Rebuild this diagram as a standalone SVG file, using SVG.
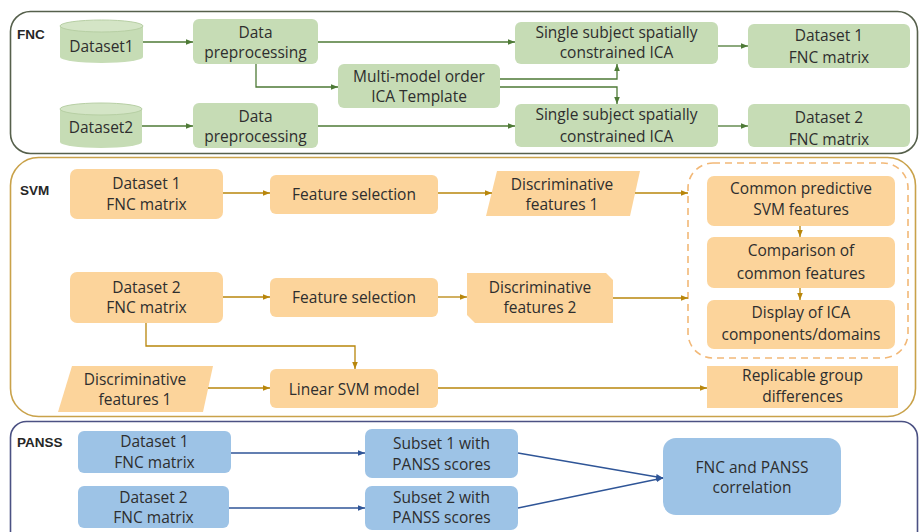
<svg xmlns="http://www.w3.org/2000/svg" width="920" height="532" viewBox="0 0 920 532">
  <defs>
    <marker id="arr-g" viewBox="0 0 8 8" refX="8" refY="4" markerWidth="7" markerHeight="7" markerUnits="userSpaceOnUse" orient="auto">
      <path d="M0,0.8 L8,4 L0,7.2 Z" fill="#4e7a36"/>
    </marker>
    <marker id="arr-o" viewBox="0 0 8 8" refX="8" refY="4" markerWidth="7" markerHeight="7" markerUnits="userSpaceOnUse" orient="auto">
      <path d="M0,0.8 L8,4 L0,7.2 Z" fill="#b8860b"/>
    </marker>
    <marker id="arr-b" viewBox="0 0 8 8" refX="8" refY="4" markerWidth="7" markerHeight="7" markerUnits="userSpaceOnUse" orient="auto">
      <path d="M0,0.8 L8,4 L0,7.2 Z" fill="#2f5597"/>
    </marker>
  </defs>
  <style>
    .panel { fill: #ffffff; stroke-width: 1.6; }
    .label { font-family: "Liberation Sans", Arial, sans-serif; font-size: 13.5px; font-weight: bold; fill: #262626; }
    .t { font-family: "Open Sans", "Noto Sans", sans-serif; font-size: 15.5px; fill: #2e2e2e; text-anchor: middle; }
    .g { fill: #c6dcb5; }
    .gtop { fill: #d4e5c6; stroke: #b7cfa4; stroke-width: 1; }
    .o { fill: #fcd49b; }
    .b { fill: #9dc3e6; }
    .cg { fill: none; stroke: #4e7a36; stroke-width: 1.3; }
    .co { fill: none; stroke: #b8860b; stroke-width: 1.3; }
    .cb { fill: none; stroke: #2f5597; stroke-width: 1.3; }
  </style>

  <!-- section frames -->
  <g id="panel-fnc">
    <rect class="panel" x="10.5" y="11.5" width="907" height="142" rx="20" stroke="#56604c"/>
    <text class="label" x="17" y="39">FNC</text>
  </g>
  <g id="panel-svm">
    <rect class="panel" x="10.5" y="157.5" width="905" height="259" rx="28" stroke="#c9a24a"/>
    <text class="label" x="20" y="195">SVM</text>
  </g>
  <g id="panel-panss">
    <rect class="panel" x="10.5" y="421.5" width="907" height="135" rx="16" stroke="#4b5183"/>
    <text class="label" x="17" y="447">PANSS</text>
  </g>

  <!-- FNC section nodes -->
  <g id="fnc-dataset1">
    <path class="g" d="M60,26 L60,57 A41.5,6 0 0 0 143,57 L143,26 Z"/>
    <ellipse class="gtop" cx="101.5" cy="26" rx="41.5" ry="6"/>
    <text class="t" x="101.5" y="51.5">Dataset1</text>
  </g>
  <g id="fnc-dataset2">
    <path class="g" d="M60,109 L60,142 A41,6 0 0 0 142,142 L142,109 Z"/>
    <ellipse class="gtop" cx="101" cy="109" rx="41" ry="6"/>
    <text class="t" x="101" y="133">Dataset2</text>
  </g>
  <g id="fnc-preproc1">
    <rect class="g" x="193" y="19" width="125" height="45" rx="6"/>
    <text class="t" x="255.5" y="38">Data</text>
    <text class="t" x="255.5" y="58">preprocessing</text>
  </g>
  <g id="fnc-preproc2">
    <rect class="g" x="193" y="103" width="125" height="45" rx="6"/>
    <text class="t" x="255.5" y="122">Data</text>
    <text class="t" x="255.5" y="142">preprocessing</text>
  </g>
  <g id="fnc-template">
    <rect class="g" x="338" y="64" width="162" height="44" rx="6"/>
    <text class="t" x="419" y="81.5">Multi-model order</text>
    <text class="t" x="419" y="101.5">ICA Template</text>
  </g>
  <g id="fnc-scica1">
    <rect class="g" x="515" y="22" width="203" height="42" rx="6"/>
    <text class="t" x="616.5" y="37.5">Single subject spatially</text>
    <text class="t" x="616.5" y="58">constrained ICA</text>
  </g>
  <g id="fnc-scica2">
    <rect class="g" x="515" y="104" width="203" height="43" rx="6"/>
    <text class="t" x="616.5" y="120">Single subject spatially</text>
    <text class="t" x="616.5" y="141.5">constrained ICA</text>
  </g>
  <g id="fnc-matrix1">
    <rect class="g" x="748" y="24" width="162" height="44" rx="6"/>
    <text class="t" x="829" y="41">Dataset 1</text>
    <text class="t" x="829" y="63">FNC matrix</text>
  </g>
  <g id="fnc-matrix2">
    <rect class="g" x="748" y="104" width="162" height="43" rx="6"/>
    <text class="t" x="829" y="123">Dataset 2</text>
    <text class="t" x="829" y="144.5">FNC matrix</text>
  </g>

  <!-- SVM section nodes -->
  <g id="svm-matrix1">
    <rect class="o" x="70" y="169" width="153" height="50" rx="7"/>
    <text class="t" x="146.5" y="189">Dataset 1</text>
    <text class="t" x="146.5" y="210">FNC matrix</text>
  </g>
  <g id="svm-select1">
    <rect class="o" x="270" y="175" width="168" height="39" rx="6"/>
    <text class="t" x="354" y="200">Feature selection</text>
  </g>
  <g id="svm-disc1">
    <polygon class="o" points="497,171 640,171 630,216 486,216"/>
    <text class="t" x="562" y="190">Discriminative</text>
    <text class="t" x="562" y="210">features 1</text>
  </g>
  <g id="svm-matrix2">
    <rect class="o" x="70" y="272" width="153" height="51" rx="7"/>
    <text class="t" x="146.5" y="293">Dataset 2</text>
    <text class="t" x="146.5" y="313">FNC matrix</text>
  </g>
  <g id="svm-select2">
    <rect class="o" x="270" y="278" width="168" height="39" rx="6"/>
    <text class="t" x="354" y="303">Feature selection</text>
  </g>
  <g id="svm-disc2">
    <polygon class="o" points="467,273 606,273 613,280 613,323 475,323 467,315"/>
    <text class="t" x="540" y="293">Discriminative</text>
    <text class="t" x="540" y="313">features 2</text>
  </g>
  <g id="svm-disc1-input">
    <polygon class="o" points="72,366 213,366 203,412 58,412"/>
    <text class="t" x="135" y="385">Discriminative</text>
    <text class="t" x="135" y="405">features 1</text>
  </g>
  <g id="svm-linear">
    <rect class="o" x="270" y="369" width="168" height="39" rx="6"/>
    <text class="t" x="354" y="395">Linear SVM model</text>
  </g>
  <g id="svm-common-group">
    <rect x="688" y="163" width="220" height="195" rx="25" fill="none" stroke="#f2b877" stroke-width="1.6" stroke-dasharray="7 5"/>
  </g>
  <g id="svm-common">
    <rect class="o" x="707" y="176" width="188" height="50" rx="7"/>
    <text class="t" x="801" y="194">Common predictive</text>
    <text class="t" x="801" y="215">SVM features</text>
  </g>
  <g id="svm-compare">
    <rect class="o" x="707" y="237" width="188" height="51" rx="7"/>
    <text class="t" x="801" y="256">Comparison of</text>
    <text class="t" x="801" y="279">common features</text>
  </g>
  <g id="svm-display">
    <rect class="o" x="707" y="300" width="188" height="49" rx="7"/>
    <text class="t" x="801" y="318">Display of ICA</text>
    <text class="t" x="801" y="340">components/domains</text>
  </g>
  <g id="svm-replicable">
    <rect class="o" x="707" y="366" width="191" height="42"/>
    <text class="t" x="802.5" y="381">Replicable group</text>
    <text class="t" x="802.5" y="402">differences</text>
  </g>

  <!-- PANSS section nodes -->
  <g id="panss-matrix1">
    <rect class="b" x="78" y="431" width="153" height="42" rx="6"/>
    <text class="t" x="154.5" y="447">Dataset 1</text>
    <text class="t" x="154.5" y="468">FNC matrix</text>
  </g>
  <g id="panss-matrix2">
    <rect class="b" x="78" y="486" width="151" height="42" rx="6"/>
    <text class="t" x="153.5" y="503">Dataset 2</text>
    <text class="t" x="153.5" y="523">FNC matrix</text>
  </g>
  <g id="panss-subset1">
    <rect class="b" x="365" y="429" width="153" height="49" rx="7"/>
    <text class="t" x="441.5" y="449">Subset 1 with</text>
    <text class="t" x="441.5" y="470">PANSS scores</text>
  </g>
  <g id="panss-subset2">
    <rect class="b" x="365" y="486" width="153" height="44" rx="7"/>
    <text class="t" x="441.5" y="503">Subset 2 with</text>
    <text class="t" x="441.5" y="523">PANSS scores</text>
  </g>
  <g id="panss-correlation">
    <rect class="b" x="663" y="438" width="178" height="77" rx="13"/>
    <text class="t" x="752" y="473">FNC and PANSS</text>
    <text class="t" x="752" y="493">correlation</text>
  </g>

  <!-- connectors -->
  <g id="connectors">
    <path class="cg" d="M143,42 H193" marker-end="url(#arr-g)"/>
    <path class="cg" d="M142,126 H193" marker-end="url(#arr-g)"/>
    <path class="cg" d="M318,42 H515" marker-end="url(#arr-g)"/>
    <path class="cg" d="M318,126 H515" marker-end="url(#arr-g)"/>
    <path class="cg" d="M256,64 V87 H338" marker-end="url(#arr-g)"/>
    <path class="cg" d="M500,79 H617 V64" marker-end="url(#arr-g)"/>
    <path class="cg" d="M500,87 H617 V104" marker-end="url(#arr-g)"/>
    <path class="cg" d="M718,46 H748" marker-end="url(#arr-g)"/>
    <path class="cg" d="M718,126 H748" marker-end="url(#arr-g)"/>

    <path class="co" d="M223,193 H270" marker-end="url(#arr-o)"/>
    <path class="co" d="M438,193 H492" marker-end="url(#arr-o)"/>
    <path class="co" d="M635,193 H688" marker-end="url(#arr-o)"/>
    <path class="co" d="M223,297 H270" marker-end="url(#arr-o)"/>
    <path class="co" d="M438,297 H467" marker-end="url(#arr-o)"/>
    <path class="co" d="M613,298 H688" marker-end="url(#arr-o)"/>
    <path class="co" d="M146,323 V346 H355 V369" marker-end="url(#arr-o)"/>
    <path class="co" d="M208,388 H270" marker-end="url(#arr-o)"/>
    <path class="co" d="M438,388 H707" marker-end="url(#arr-o)"/>
    <path class="co" d="M800,226 V237" marker-end="url(#arr-o)"/>
    <path class="co" d="M800,288 V300" marker-end="url(#arr-o)"/>

    <path class="cb" d="M231,453 H365" marker-end="url(#arr-b)"/>
    <path class="cb" d="M229,508 H365" marker-end="url(#arr-b)"/>
    <path class="cb" d="M518,453 L663,478" marker-end="url(#arr-b)"/>
    <path class="cb" d="M518,508 L663,478" marker-end="url(#arr-b)"/>
  </g>
</svg>
